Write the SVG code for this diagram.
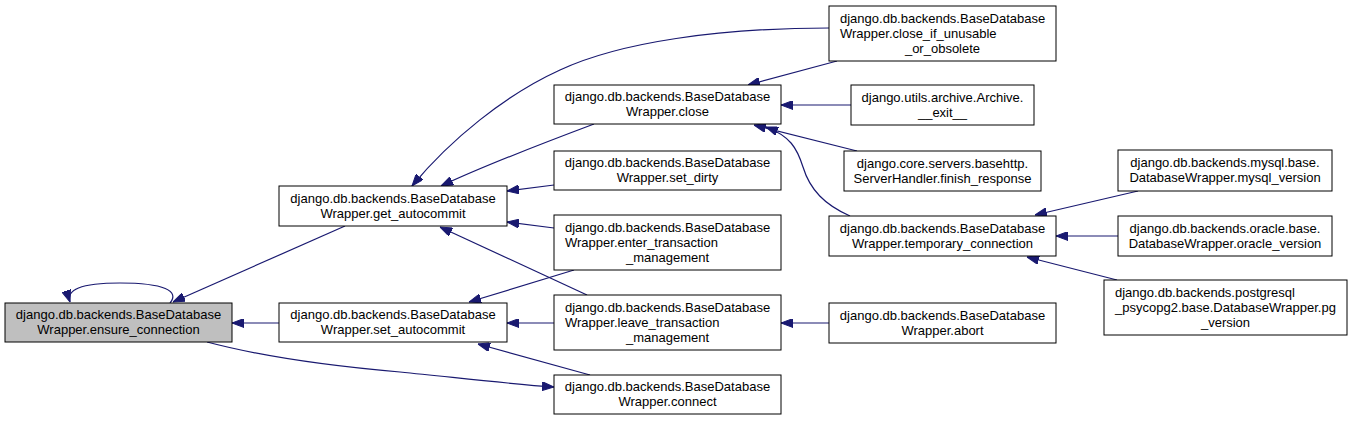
<svg xmlns="http://www.w3.org/2000/svg" width="1352" height="421" viewBox="0 0 1352 421">
<style>
.node rect{fill:#ffffff;stroke:#000000;stroke-width:1}
.node.cur rect{fill:#bfbfbf}
.node text{font-family:"Liberation Sans",Arial,sans-serif;font-size:13px;fill:#000000}
.c{text-anchor:middle}
.l{text-anchor:start}
#edges path{fill:none;stroke:#191970;stroke-width:1.2;marker-end:url(#ah)}
</style>
<defs>
<marker id="ah" markerUnits="userSpaceOnUse" viewBox="0 0 12 9" refX="12" refY="4.5" markerWidth="12" markerHeight="9" orient="auto">
<path d="M0,0 L12,4.5 L0,9 z" fill="#191970" stroke="#191970" stroke-width="1"/>
</marker>
</defs>
<rect width="1352" height="421" fill="#ffffff"/>
<g id="edges">
<path d="M170,303 C180,291 164,283 120,283 C80,283 66,290 70,302"/>
<path d="M345,226 L173,302"/>
<path d="M279,323 L232,323"/>
<path d="M207,342 C260,356 330,366 400,372 C460,378 510,384 554,387"/>
<path d="M590,375 L478,344"/>
<path d="M554,323 L507,323"/>
<path d="M574,270 L469,302"/>
<path d="M587,295 L440,227"/>
<path d="M554,228 L507,222"/>
<path d="M554,185 L507,191"/>
<path d="M594,124 C570,133 490,163 441,186"/>
<path d="M829,28 C720,28 620,42 560,70 C505,95 450,140 412,186"/>
<path d="M837,61 L748,85"/>
<path d="M851,105 L781,105"/>
<path d="M857,151 L754,125"/>
<path d="M850,216 C825,205 810,190 803,167 C797,148 790,136 766,127"/>
<path d="M829,323 L781,323"/>
<path d="M1138,191 L1035,215"/>
<path d="M1118,236 L1056,236"/>
<path d="M1117,280 L1027,257"/>
</g>
<g id="ensure_connection" class="node cur">
<rect x="5" y="303" width="227" height="39"/>
<text class="c" x="118.5" y="319">django.db.backends.BaseDatabase</text>
<text class="c" x="118.5" y="334">Wrapper.ensure_connection</text>
</g>
<g id="get_autocommit" class="node">
<rect x="279" y="186" width="228" height="40"/>
<text class="c" x="393" y="202.5">django.db.backends.BaseDatabase</text>
<text class="c" x="393" y="217.5">Wrapper.get_autocommit</text>
</g>
<g id="set_autocommit" class="node">
<rect x="279" y="303" width="228" height="39"/>
<text class="c" x="393" y="319">django.db.backends.BaseDatabase</text>
<text class="c" x="393" y="334">Wrapper.set_autocommit</text>
</g>
<g id="close" class="node">
<rect x="554" y="85" width="227" height="39"/>
<text class="c" x="667.5" y="101">django.db.backends.BaseDatabase</text>
<text class="c" x="667.5" y="116">Wrapper.close</text>
</g>
<g id="set_dirty" class="node">
<rect x="554" y="151" width="227" height="39"/>
<text class="c" x="667.5" y="167">django.db.backends.BaseDatabase</text>
<text class="c" x="667.5" y="182">Wrapper.set_dirty</text>
</g>
<g id="enter_transaction_management" class="node">
<rect x="554" y="215" width="227" height="55"/>
<text class="l" x="565" y="231.5">django.db.backends.BaseDatabase</text>
<text class="l" x="565" y="246.5">Wrapper.enter_transaction</text>
<text class="c" x="667.5" y="261.5">_management</text>
</g>
<g id="leave_transaction_management" class="node">
<rect x="554" y="295" width="227" height="55"/>
<text class="l" x="565" y="311.5">django.db.backends.BaseDatabase</text>
<text class="l" x="565" y="326.5">Wrapper.leave_transaction</text>
<text class="c" x="667.5" y="341.5">_management</text>
</g>
<g id="connect" class="node">
<rect x="554" y="375" width="227" height="39"/>
<text class="c" x="667.5" y="391">django.db.backends.BaseDatabase</text>
<text class="c" x="667.5" y="406">Wrapper.connect</text>
</g>
<g id="close_if_unusable_or_obsolete" class="node">
<rect x="829" y="6" width="227" height="55"/>
<text class="l" x="840" y="22.5">django.db.backends.BaseDatabase</text>
<text class="l" x="840" y="37.5">Wrapper.close_if_unusable</text>
<text class="c" x="942.5" y="52.5">_or_obsolete</text>
</g>
<g id="archive_exit" class="node">
<rect x="851" y="85" width="183" height="40"/>
<text class="c" x="942.5" y="101.5">django.utils.archive.Archive.</text>
<text class="c" x="942.5" y="116.5">__exit__</text>
</g>
<g id="finish_response" class="node">
<rect x="844" y="151" width="197" height="40"/>
<text class="c" x="942.5" y="167.5">django.core.servers.basehttp.</text>
<text class="c" x="942.5" y="182.5">ServerHandler.finish_response</text>
</g>
<g id="temporary_connection" class="node">
<rect x="829" y="216" width="227" height="40"/>
<text class="c" x="942.5" y="232.5">django.db.backends.BaseDatabase</text>
<text class="c" x="942.5" y="247.5">Wrapper.temporary_connection</text>
</g>
<g id="abort" class="node">
<rect x="829" y="303" width="227" height="40"/>
<text class="c" x="942.5" y="319.5">django.db.backends.BaseDatabase</text>
<text class="c" x="942.5" y="334.5">Wrapper.abort</text>
</g>
<g id="mysql_version" class="node">
<rect x="1118" y="150" width="214" height="41"/>
<text class="c" x="1225" y="167">django.db.backends.mysql.base.</text>
<text class="c" x="1225" y="182">DatabaseWrapper.mysql_version</text>
</g>
<g id="oracle_version" class="node">
<rect x="1118" y="216" width="214" height="40"/>
<text class="c" x="1225" y="232.5">django.db.backends.oracle.base.</text>
<text class="c" x="1225" y="247.5">DatabaseWrapper.oracle_version</text>
</g>
<g id="pg_version" class="node">
<rect x="1104" y="280" width="243" height="55"/>
<text class="l" x="1115" y="296.5">django.db.backends.postgresql</text>
<text class="l" x="1115" y="311.5">_psycopg2.base.DatabaseWrapper.pg</text>
<text class="c" x="1225.5" y="326.5">_version</text>
</g>
</svg>
